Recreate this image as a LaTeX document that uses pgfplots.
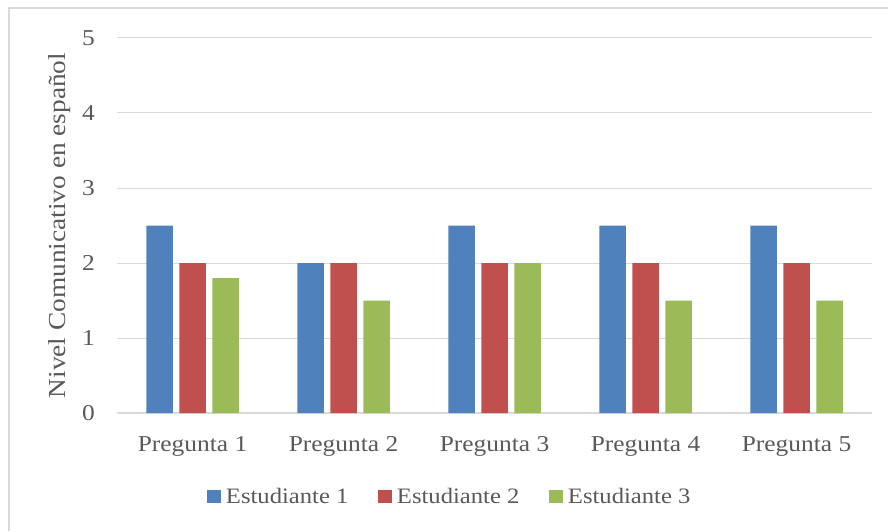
\documentclass[border=0pt]{standalone}
\usepackage{fontspec}
\setmainfont{Liberation Serif}[FakeStretch=1.12]
\usepackage{pgfplots}
\pgfplotsset{compat=1.18}
\definecolor{c1}{HTML}{4F81BD}
\definecolor{c2}{HTML}{C0504D}
\definecolor{c3}{HTML}{9BBB59}
\definecolor{txt}{HTML}{595959}
\definecolor{grd}{HTML}{D9D9D9}
\begin{document}
\begin{tikzpicture}
\useasboundingbox (0pt,0pt) rectangle (888pt,531pt);
\draw[grd, line width=1.5pt] (9pt,0pt) -- (9pt,523pt) -- (888pt,523pt);
\begin{axis}[
  at={(117pt,118pt)}, anchor=south west,
  scale only axis, width=755pt, height=375pt,
  xmin=-0.5, xmax=4.5, ymin=0, ymax=5,
  ybar=6.5pt, bar width=26.5pt,
  xtick={0,1,2,3,4},
  xticklabels={Pregunta 1,Pregunta 2,Pregunta 3,Pregunta 4,Pregunta 5},
  ytick={0,1,2,3,4,5},
  major tick length=0pt,
  /pgf/number format/assume math mode=true,
  axis x line*=bottom, axis y line*=left,
  y axis line style={draw=none},
  x axis line style={grd, line width=1.5pt},
  ymajorgrids, grid style={grd, line width=1pt},
  tick label style={font=\fontsize{22.7}{27}\selectfont, text=txt},
  yticklabel style={anchor=east, inner sep=0pt, xshift=-22pt},
  xticklabel style={anchor=north, inner sep=0pt, yshift=-23pt},
  ylabel={Nivel Comunicativo en español},
  ylabel style={at={(axis description cs:-0.0755,0.5)}, anchor=center, rotate=0, font=\fontsize{24.4}{29}\selectfont, text=txt},
  legend style={at={(0.441,-0.224)}, anchor=center, draw=none, fill=none,
    font=\fontsize{22}{26}\selectfont, text=txt, legend columns=3,
    /tikz/every odd column/.append style={column sep=3pt},
    /tikz/every even column/.append style={column sep=28pt}},
  legend image code/.code={\fill[#1] (0pt,-6pt) rectangle (13.5pt,7pt);},
]
\addplot[fill=c1, draw=none] coordinates {(0,2.5) (1,2) (2,2.5) (3,2.5) (4,2.5)};
\addplot[fill=c2, draw=none] coordinates {(0,2) (1,2) (2,2) (3,2) (4,2)};
\addplot[fill=c3, draw=none] coordinates {(0,1.8) (1,1.5) (2,2) (3,1.5) (4,1.5)};
\legend{Estudiante 1, Estudiante 2, Estudiante 3}
\end{axis}
\end{tikzpicture}
\end{document}
